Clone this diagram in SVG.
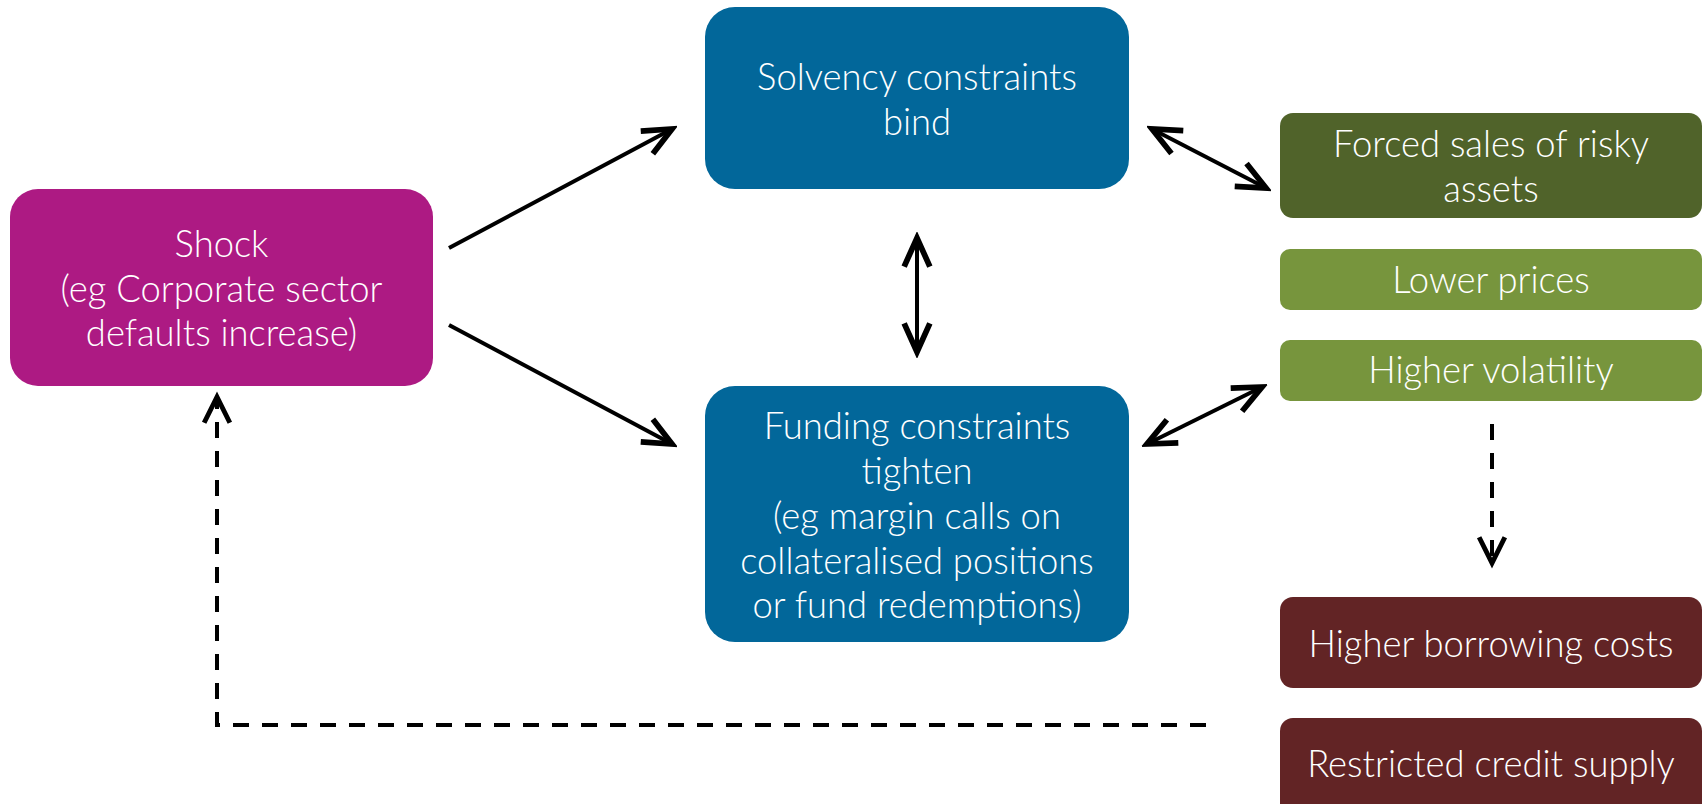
<svg xmlns="http://www.w3.org/2000/svg" width="1704" height="804" viewBox="0 0 1704 804">
  <style>
    .lbl { font-family: "Lato", "Open Sans", "Liberation Sans", sans-serif; font-weight: 300; font-size: 36.4px; fill: #ffffff; text-anchor: middle; }
    .conn { fill: none; stroke: #000000; stroke-width: 4; }
    .dash { stroke-dasharray: 16 13; stroke-width: 4; }
    .head { fill: none; stroke: #000000; stroke-width: 4; stroke-linejoin: miter; stroke-linecap: butt; }
  </style>
  <defs>
    <marker id="arrow" markerUnits="userSpaceOnUse" markerWidth="40" markerHeight="40" viewBox="-24 -14 28 28" refX="0" refY="0" orient="auto-start-reverse">
      <path class="head" d="M-20,-9 L0,0 L-20,9"/>
    </marker>
    <marker id="arrowDash" markerUnits="userSpaceOnUse" markerWidth="40" markerHeight="40" viewBox="-24 -14 28 28" refX="0" refY="0" orient="auto">
      <path class="head" d="M-18,-9 L0,0 L-18,9" style="stroke-width:3.4"/>
    </marker>
  </defs>

  <rect width="1704" height="804" fill="#ffffff"/>

  <g id="connectors">
    <line class="conn" x1="449" y1="248" x2="672" y2="129" marker-end="url(#arrow)"/>
    <line class="conn" x1="449" y1="325" x2="672" y2="444" marker-end="url(#arrow)"/>
    <line class="conn" x1="917" y1="238" x2="917" y2="352" marker-start="url(#arrow)" marker-end="url(#arrow)"/>
    <line class="conn" x1="1152" y1="129" x2="1266" y2="188" marker-start="url(#arrow)" marker-end="url(#arrow)"/>
    <line class="conn" x1="1147" y1="444" x2="1262" y2="387" marker-start="url(#arrow)" marker-end="url(#arrow)"/>
    <line class="conn dash" x1="1492" y1="424" x2="1492" y2="563" marker-end="url(#arrowDash)"/>
    <polyline class="conn dash" points="1206,725 217,725 217,397" marker-end="url(#arrowDash)"/>
  </g>

  <g id="shock">
    <rect x="10" y="189" width="423" height="197" rx="28" fill="#ad1a83"/>
    <text class="lbl" x="221.5" y="257">Shock</text>
    <text class="lbl" x="221.5" y="302">(eg Corporate sector</text>
    <text class="lbl" x="221.5" y="346">defaults increase)</text>
  </g>

  <g id="solvency">
    <rect x="705" y="7" width="424" height="182" rx="30" fill="#02679a"/>
    <text class="lbl" x="917" y="90">Solvency constraints</text>
    <text class="lbl" x="917" y="135">bind</text>
  </g>

  <g id="funding">
    <rect x="705" y="386" width="424" height="256" rx="30" fill="#02679a"/>
    <text class="lbl" x="917" y="439">Funding constraints</text>
    <text class="lbl" x="917" y="484">tighten</text>
    <text class="lbl" x="917" y="529">(eg margin calls on</text>
    <text class="lbl" x="917" y="574">collateralised positions</text>
    <text class="lbl" x="917" y="618">or fund redemptions)</text>
  </g>

  <g id="forced-sales">
    <rect x="1280" y="113" width="422" height="105" rx="13" fill="#50632a"/>
    <text class="lbl" x="1491" y="157">Forced sales of risky</text>
    <text class="lbl" x="1491" y="202">assets</text>
  </g>

  <g id="lower-prices">
    <rect x="1280" y="249" width="422" height="61" rx="10" fill="#77953d"/>
    <text class="lbl" x="1491" y="293">Lower prices</text>
  </g>

  <g id="higher-volatility">
    <rect x="1280" y="340" width="422" height="61" rx="10" fill="#77953d"/>
    <text class="lbl" x="1491" y="383">Higher volatility</text>
  </g>

  <g id="higher-borrowing">
    <rect x="1280" y="597" width="422" height="91" rx="13" fill="#622425"/>
    <text class="lbl" x="1491" y="657">Higher borrowing costs</text>
  </g>

  <g id="restricted-credit">
    <rect x="1280" y="718" width="422" height="110" rx="13" fill="#622425"/>
    <text class="lbl" x="1491" y="777">Restricted credit supply</text>
  </g>
</svg>
